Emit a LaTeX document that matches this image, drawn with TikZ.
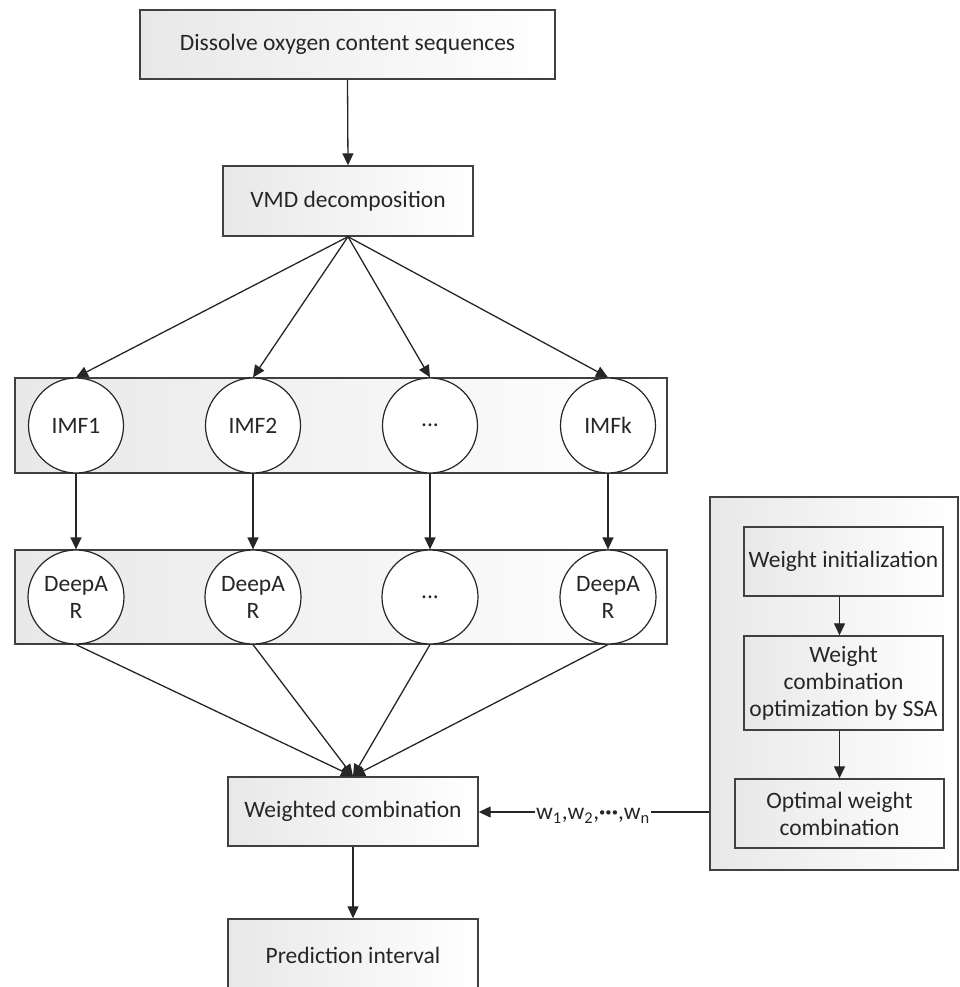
\documentclass[tikz,border=0pt]{standalone}
\usepackage{fontspec}
\setmainfont{Carlito}
\usetikzlibrary{arrows.meta,shapes.geometric}
\begin{document}
\begin{tikzpicture}[x=1pt,y=-1pt,
  txt/.style={font=\fontsize{23.5}{27}\selectfont, text=black!85},
  box/.style={txt, draw=black!75, line width=1.4pt, left color=black!9, right color=white, align=center, inner sep=0pt},
  row/.style={draw=black!75, line width=1.4pt, left color=black!9, right color=white, inner sep=0pt},
  circ/.style={txt, circle, draw=black!85, line width=1.2pt, fill=white, minimum size=95pt, inner sep=0pt, align=center},
  ell/.style={txt, ellipse, draw=black!85, line width=1.2pt, fill=white, minimum width=96pt, minimum height=94pt, inner sep=0pt, align=center},
  conn/.style={draw=black!85, line width=1.3pt},
  arr/.style={conn, -{Triangle[length=12pt,width=11pt]}}
]
\useasboundingbox (0,0) rectangle (960,987);
% top boxes
\node[box, minimum width=415pt, minimum height=69pt] (top) at (347.5,44.5) {Dissolve oxygen content sequences};
\node[box, minimum width=250pt, minimum height=70pt] (vmd) at (348,201) {VMD decomposition};
% IMF row
\node[row, minimum width=652pt, minimum height=95pt] (imfrow) at (341,425.5) {};
\node[circ] (i1) at (76,425.5) {IMF1};
\node[circ] (i2) at (253,425.5) {IMF2};
\node[circ] (i3) at (430,425.5) {...};
\node[circ] (i4) at (608,425.5) {IMFk};
% DeepAR row
\node[row, minimum width=652pt, minimum height=94pt] (drow) at (341,597) {};
\node[ell] (d1) at (76,597) {DeepA\\R};
\node[ell] (d2) at (253,597) {DeepA\\R};
\node[ell] (d3) at (430,597) {...};
\node[ell] (d4) at (608,597) {DeepA\\R};
% bottom boxes
\node[box, minimum width=250pt, minimum height=69pt] (wc) at (353,811.5) {Weighted combination};
\node[box, minimum width=250pt, minimum height=72pt] (pi) at (353,955) {Prediction interval};
% right panel
\node[row, minimum width=248pt, minimum height=373pt] (panel) at (834,683.5) {};
\node[box, minimum width=199pt, minimum height=69pt] (wi) at (843.5,561.5) {Weight initialization};
\node[box, minimum width=199pt, minimum height=94pt] (wco) at (843.5,683) {Weight\\combination\\optimization by SSA};
\node[box, minimum width=209pt, minimum height=69pt] (owc) at (839.5,813.5) {Optimal weight\\combination};
\node[txt, inner sep=1pt] (lab) at (593,816) {w\textsubscript{1},w\textsubscript{2},\textbf{···},w\textsubscript{n}};
% connectors
\draw[arr] (top.south) -- (vmd.north);
\foreach \c in {i1,i2,i3,i4} \draw[arr] (vmd.south) -- (\c.north);
\draw[arr] (i1.south) -- (d1.north);
\draw[arr] (i2.south) -- (d2.north);
\draw[arr] (i3.south) -- (d3.north);
\draw[arr] (i4.south) -- (d4.north);
\foreach \c in {d1,d2,d3,d4} \draw[arr] (\c.south) -- (wc.north);
\draw[arr] (wc.south) -- (pi.north);
\draw[arr] (wi.south -| owc.north) -- (wco.north -| owc.north);
\draw[arr] (wco.south -| owc.north) -- (owc.north);
\coordinate (pl) at (panel.west |- 0,812);
\draw[conn] (pl) -- (lab.east |- pl);
\draw[arr] (lab.west |- pl) -- (wc.east |- pl);
\end{tikzpicture}
\end{document}
